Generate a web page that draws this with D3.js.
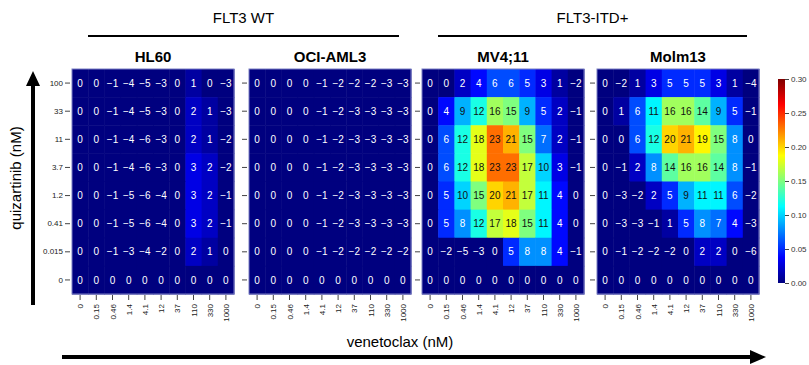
<!DOCTYPE html>
<html>
<head>
<meta charset="utf-8">
<script src="https://cdn.jsdelivr.net/npm/d3@7"></script>
<style>
  body { margin: 0; background: #fff; }
  text { font-family: "Liberation Sans", Arial, sans-serif; }
</style>
</head>
<body>
<div id="chart"></div>
<script>
// quizartinib (rows, top to bottom) x venetoclax (columns)
const rowLabels = ["100", "33", "11", "3.7", "1.2", "0.41", "0.015", "0"]
const colLabels = ["0", "0.15", "0.46", "1.4", "4.1", "12", "37", "110", "330", "1000"]
const cellLines = ["HL60", "OCI-AML3", "MV4;11", "Molm13"]
const groupNames = ["FLT3 WT", "FLT3-ITD+"]
const legendTicks = [0, 0.05, 0.10, 0.15, 0.20, 0.25, 0.30]

const hl60 = [
  [0, 0, -1, -4, -5, -3, 0, 1, 0, -3],
  [0, 0, -1, -4, -5, -3, 0, 2, 1, -3],
  [0, 0, -1, -4, -6, -3, 0, 2, 1, -2],
  [0, 0, -1, -4, -6, -3, 0, 3, 2, -2],
  [0, 0, -1, -5, -6, -4, 0, 3, 2, -1],
  [0, 0, -1, -5, -6, -4, 0, 3, 2, -1],
  [0, 0, -1, -3, -4, -2, 0, 2, 1, 0],
  [0, 0, 0, 0, 0, 0, 0, 0, 0, 0]
]
const ociAml3 = [
  [0, 0, 0, 0, -1, -2, -2, -2, -3, -3],
  [0, 0, 0, 0, -1, -2, -3, -3, -3, -3],
  [0, 0, 0, 0, -1, -2, -3, -3, -3, -3],
  [0, 0, 0, 0, -1, -2, -3, -3, -3, -3],
  [0, 0, 0, 0, -1, -2, -3, -3, -3, -3],
  [0, 0, 0, 0, -1, -2, -3, -3, -3, -3],
  [0, 0, 0, 0, -1, -2, -2, -2, -2, -2],
  [0, 0, 0, 0, 0, 0, 0, 0, 0, 0]
]
const mv411 = [
  [0, 0, 2, 4, 6, 6, 5, 3, 1, -2],
  [0, 4, 9, 12, 16, 15, 9, 5, 2, -1],
  [0, 6, 12, 18, 23, 21, 15, 7, 2, -1],
  [0, 6, 12, 18, 23, 23, 17, 10, 3, -1],
  [0, 5, 10, 15, 20, 21, 17, 11, 4, 0],
  [0, 5, 8, 12, 17, 18, 15, 11, 4, 0],
  [0, -2, -5, -3, 0, 5, 8, 8, 4, -1],
  [0, 0, 0, 0, 0, 0, 0, 0, 0, 0]
]
const molm13 = [
  [0, -2, 1, 3, 5, 5, 5, 3, 1, -4],
  [0, 1, 6, 11, 16, 16, 14, 9, 5, -1],
  [0, 0, 6, 12, 20, 21, 19, 15, 8, 0],
  [0, -1, 2, 8, 14, 16, 16, 14, 8, -1],
  [0, -3, -2, 2, 5, 9, 11, 11, 6, -2],
  [0, -3, -3, -1, 1, 5, 8, 7, 4, -3],
  [0, -1, -2, -2, -2, 0, 2, 2, 0, -6],
  [0, 0, 0, 0, 0, 0, 0, 0, 0, 0]
]
const panelData = [hl60, ociAml3, mv411, molm13]

const svg = d3.select("#chart").append("svg").attr("width", 809).attr("height", 365)

// layout
const panelX = [72, 249, 422, 597]
const panelTop = 69
const pw = 162, ph = 225

const x = d3.scaleBand().domain(colLabels).range([0, pw])
const y = d3.scaleBand().domain(rowLabels).range([0, ph])

// matlab.like palette, 0 .. 0.30
const jet = ["#00007F", "#0000FF", "#007FFF", "#00FFFF", "#7FFF7F", "#FFFF00", "#FF7F00", "#FF0000", "#7F0000"]
const color = d3.scaleLinear()
  .domain(jet.map((c, i) => i * 0.30 / (jet.length - 1)))
  .range(jet).clamp(true)

const fmt = v => (v < 0 ? "\u2212" + Math.abs(v) : "" + v)

panelData.forEach((data, p) => {
  const g = svg.append("g").attr("transform", `translate(${panelX[p]},${panelTop})`)

  const cells = []
  data.forEach((row, i) => row.forEach((v, j) => cells.push({ r: rowLabels[i], c: colLabels[j], v: v })))

  g.selectAll("rect.cell").data(cells).join("rect").attr("class", "cell")
    .attr("x", d => x(d.c)).attr("y", d => y(d.r))
    .attr("width", x.bandwidth() + 0.5).attr("height", y.bandwidth() + 0.5)
    .attr("fill", d => color(d.v / 100))

  g.append("rect").attr("width", pw).attr("height", ph)
    .attr("fill", "none").attr("stroke", "#7a7fc4").attr("stroke-width", 1)

  g.selectAll("text.val").data(cells).join("text").attr("class", "val")
    .attr("x", d => x(d.c) + x.bandwidth() / 2)
    .attr("y", d => y(d.r) + y.bandwidth() / 2)
    .attr("text-anchor", "middle").attr("dy", "0.36em")
    .style("font-size", "10px")
    .attr("fill", d => d.v >= 9 ? "#111" : "#fff")
    .text(d => fmt(d.v))

  // left ticks
  const yAxis = d3.axisLeft(y).tickSize(5).tickPadding(2)
  if (p > 0) yAxis.tickFormat("")
  const ya = g.append("g").attr("transform", "translate(-2,0)").call(yAxis)
  ya.select(".domain").remove()
  ya.selectAll("text").style("font-size", "8px").attr("fill", "#222")
  ya.selectAll("line").attr("stroke", "#444")

  // bottom ticks, rotated labels
  const xa = g.append("g").attr("transform", `translate(0,${ph + 1})`)
    .call(d3.axisBottom(x).tickSize(5).tickPadding(3))
  xa.select(".domain").remove()
  xa.selectAll("line").attr("stroke", "#444")
  xa.selectAll("text").style("font-size", "8px").attr("fill", "#222")
    .attr("text-anchor", "end").attr("dy", null)
    .attr("transform", "translate(3,9) rotate(-90)")
    .attr("y", 0).attr("x", 0)

  svg.append("text")
    .attr("x", panelX[p] + pw / 2).attr("y", 62)
    .attr("text-anchor", "middle")
    .style("font-size", "15px").style("font-weight", "bold")
    .text(cellLines[p])
})

// group headers
groupNames.forEach((name, k) => {
  const x0 = panelX[2 * k] + 16
  const x1 = panelX[2 * k + 1] + pw - 12
  svg.append("line").attr("x1", x0).attr("x2", x1).attr("y1", 36).attr("y2", 36)
    .attr("stroke", "#000").attr("stroke-width", 2)
  svg.append("text").attr("x", (x0 + x1) / 2).attr("y", 23)
    .attr("text-anchor", "middle").style("font-size", "15px")
    .text(name)
})

// colour bar
const defs = svg.append("defs")
const grad = defs.append("linearGradient").attr("id", "jet")
  .attr("x1", 0).attr("y1", 1).attr("x2", 0).attr("y2", 0)
jet.forEach((c, i) => grad.append("stop").attr("offset", i / (jet.length - 1)).attr("stop-color", c))

const ly = d3.scaleLinear().domain([0, 0.30]).range([283, 79])
svg.append("rect").attr("x", 778).attr("y", ly(0.30)).attr("width", 7)
  .attr("height", ly(0) - ly(0.30)).attr("fill", "url(#jet)")
const la = svg.append("g").attr("transform", "translate(785,0)")
  .call(d3.axisRight(ly).tickValues(legendTicks).tickFormat(d3.format(".2f")).tickSize(4).tickPadding(2))
la.select(".domain").remove()
la.selectAll("line").attr("stroke", "#444")
la.selectAll("text").style("font-size", "8px").attr("fill", "#333")

// axis arrows
svg.append("line").attr("x1", 33).attr("x2", 33).attr("y1", 305).attr("y2", 84)
  .attr("stroke", "#000").attr("stroke-width", 4)
svg.append("path").attr("d", "M26,86 L40,86 L33,71 Z").attr("fill", "#000")
svg.append("text").attr("transform", "translate(21,178) rotate(-90)")
  .attr("text-anchor", "middle").style("font-size", "15px").text("quizartinib (nM)")

svg.append("line").attr("x1", 62).attr("x2", 752).attr("y1", 357).attr("y2", 357)
  .attr("stroke", "#000").attr("stroke-width", 4)
svg.append("path").attr("d", "M750,350 L750,364 L766,357 Z").attr("fill", "#000")
svg.append("text").attr("x", 400).attr("y", 347)
  .attr("text-anchor", "middle").style("font-size", "15px").text("venetoclax (nM)")
</script>
</body>
</html>
